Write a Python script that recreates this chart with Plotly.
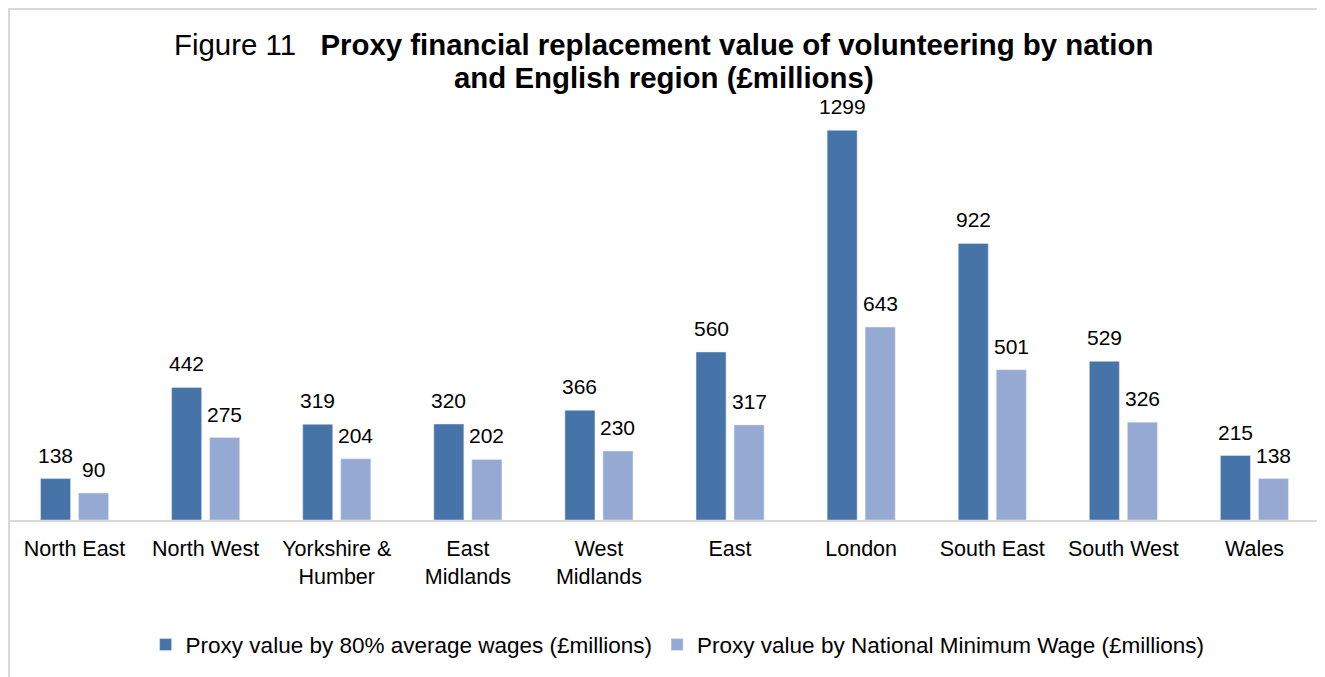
import plotly.graph_objects as go

regions = ["North East", "North West", "Yorkshire &<br>Humber", "East<br>Midlands", "West<br>Midlands",
           "East", "London", "South East", "South West", "Wales"]
avg_wage_80 = [138, 442, 319, 320, 366, 560, 1299, 922, 529, 215]
min_wage = [90, 275, 204, 202, 230, 317, 643, 501, 326, 138]

FONT = "Arial, Liberation Sans, sans-serif"
DARK = "#4673a8"
LIGHT = "#95a9d2"

fig = go.Figure()
fig.add_trace(go.Bar(
    name="Proxy value by 80% average wages (£millions)",
    x=regions, y=avg_wage_80,
    marker=dict(color=DARK),
))
fig.add_trace(go.Bar(
    name="Proxy value by National Minimum Wage (£millions)",
    x=regions, y=min_wage,
    marker=dict(color=LIGHT),
))

# value labels above the bars (annotations so the gap above the bar can be set)
labels = []
for vals, shift in [(avg_wage_80, -19), (min_wage, 19)]:
    for r, v in zip(regions, vals):
        labels.append(dict(
            x=r, y=v, text=str(v), xref="x", yref="y",
            xshift=shift, yshift=10, xanchor="center", yanchor="bottom",
            showarrow=False, font=dict(size=21, color="#000000"),
        ))

# title on two lines, bold part after "Figure 11"
labels.append(dict(
    text="Figure 11   <b>Proxy financial replacement value of volunteering by nation</b>",
    xref="paper", yref="paper", x=0.4995, y=1.1310, xanchor="center", yanchor="middle",
    showarrow=False, font=dict(size=29.4, color="#000000"),
))
labels.append(dict(
    text="<b>and English region (£millions)</b>",
    xref="paper", yref="paper", x=0.4995, y=1.0525, xanchor="center", yanchor="middle",
    showarrow=False, font=dict(size=29.4, color="#000000"),
))

fig.update_layout(
    width=1317, height=669,
    margin=dict(l=1, r=5, t=92, b=157),
    paper_bgcolor="white", plot_bgcolor="white",
    font=dict(family=FONT, size=21, color="#000000"),
    barmode="group", bargap=0.42, bargroupgap=0.21,
    showlegend=True,
    legend=dict(orientation="h", x=0.51, xanchor="center", y=-0.2976, yanchor="middle",
                font=dict(size=22.5), itemwidth=30),
    xaxis=dict(showline=True, linecolor="#d9d9d9", linewidth=2, ticks="",
               tickfont=dict(size=21.5), ticklabelstandoff=8, showgrid=False),
    yaxis=dict(range=[0, 1400], visible=False, showgrid=False),
    annotations=labels,
    shapes=[dict(type="rect", xref="paper", yref="paper",
                 x0=0, x1=1.0, y0=-0.5, y1=1.2167,
                 line=dict(color="#d9d9d9", width=2))],
)

fig.write_html("out.html")
